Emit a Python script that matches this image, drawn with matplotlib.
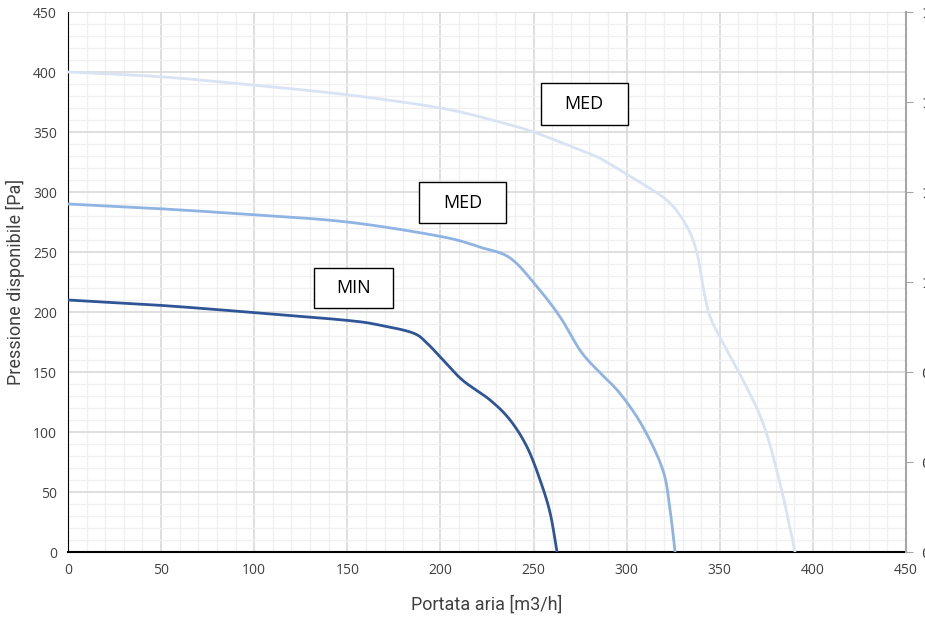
import matplotlib
matplotlib.use("Agg")
import matplotlib.pyplot as plt
import numpy as np
from matplotlib.patches import Rectangle
from matplotlib.ticker import MultipleLocator

# curve data: air flow [m3/h] vs pressure [Pa]
min_q = [0, 50, 100, 150, 167.6, 185.3, 192.8, 201.4, 212, 226.6, 237.4, 246.5, 253.5, 258.9, 262.6]
min_p = [210, 205.5, 199.5, 193, 189, 182.5, 174, 160, 143, 126.7, 110, 87.5, 60, 32.5, 0]

med_q = [0, 50, 100, 150, 200, 221.3, 237.4, 251.9, 264.2, 275, 284, 296.5, 308.8, 319.5, 323.3, 326]
med_p = [290, 286, 281, 275, 263, 254, 245, 221, 196, 168, 152, 132, 104, 68, 35, 0]

max_q = [0, 50, 100, 150, 200, 230, 250, 275, 285.7, 300.8, 321.7, 332.4, 337.8, 341, 344.8,
         351.8, 362.5, 373.3, 382.4, 390.4]
max_p = [400, 396, 389, 381, 370, 359, 350, 335, 328, 314, 293, 271, 249, 221, 196,
         174, 143, 107, 57, 0]

labels = ["MIN", "MED", "MED"]
right_ticks = ["0", "0", "0", "1", "1", "1", "1"]


def smooth(xs, ys, n=20):
    # catmull-rom drawing through the points, like excel's smoothed line
    p = np.column_stack([xs, ys]).astype(float)
    p = np.vstack([p[0], p, p[-1]])
    out = []
    t = np.linspace(0, 1, n, endpoint=False)[:, None]
    for i in range(1, len(p) - 2):
        p0, p1, p2, p3 = p[i-1], p[i], p[i+1], p[i+2]
        seg = 0.5 * ((2*p1) + (-p0 + p2)*t + (2*p0 - 5*p1 + 4*p2 - p3)*t**2
                     + (-p0 + 3*p1 - 3*p2 + p3)*t**3)
        out.append(seg)
    out.append(p[-2][None, :])
    out = np.vstack(out)
    return out[:, 0], out[:, 1]


fig = plt.figure(figsize=(9.25, 6.18), dpi=100)
ax = fig.add_axes([68/925, 1-552/618, 838/925, 540/618])

ax.set_xlim(0, 450)
ax.set_ylim(0, 450)
ax.xaxis.set_major_locator(MultipleLocator(50))
ax.yaxis.set_major_locator(MultipleLocator(50))
ax.xaxis.set_minor_locator(MultipleLocator(10))
ax.yaxis.set_minor_locator(MultipleLocator(10))
ax.grid(which="minor", color="#f0f0f0", lw=1)
ax.grid(which="major", color="#d9d9d9", lw=1.2)
ax.set_axisbelow(True)
ax.tick_params(which="both", length=0, labelsize=10, colors="#404040", pad=8)
for lab in ax.get_xticklabels() + ax.get_yticklabels():
    lab.set_family("Open Sans")

ax.spines["top"].set_visible(False)
ax.spines["right"].set_visible(False)
ax.spines["left"].set_color("black")
ax.spines["bottom"].set_color("black")
ax.spines["bottom"].set_linewidth(1.5)

ax.plot(*smooth(max_q, max_p), color="#dae3f3", lw=2, zorder=3)
ax.plot(*smooth(med_q, med_p), color="#8fb4e3", lw=2, zorder=3)
ax.plot(*smooth(min_q, min_p), color="#2f5597", lw=2, zorder=3)

# label boxes
boxes = [(132, 203.5, 42.5, 33.5), (188.5, 274, 46.5, 34), (254, 355.5, 46.5, 35.5)]
for txt, (x0, y0, w, h) in zip(labels, boxes):
    ax.add_patch(Rectangle((x0, y0), w, h, facecolor="white", edgecolor="black", lw=1, zorder=4))
    ax.text(x0 + w/2, y0 + h/2, txt, ha="center", va="center", fontsize=13,
            family="Open Sans", zorder=5)

ax.set_xlabel("Portata aria [m3/h]", fontsize=13, family="Roboto", color="#404040")
ax.set_ylabel("Pressione disponibile [Pa]", fontsize=13, family="Roboto", color="#404040")
ax.xaxis.set_label_coords(0.5, -0.098)
ax.yaxis.set_label_coords(-0.063, 0.5)
ax.xaxis.label.set_va("center")
ax.yaxis.label.set_va("center")

ax2 = ax.twinx()
ax2.set_ylim(0, 450)
ax2.set_yticks(range(0, 451, 75), right_ticks)
ax2.tick_params(axis="y", length=5, color="#a6a6a6", labelsize=10, labelcolor="#404040", pad=6)
for s in ["top", "left", "bottom"]:
    ax2.spines[s].set_visible(False)
ax2.spines["right"].set_color("#a6a6a6")
ax2.spines["right"].set_linewidth(1.5)

fig.savefig("out.png", dpi=100)
